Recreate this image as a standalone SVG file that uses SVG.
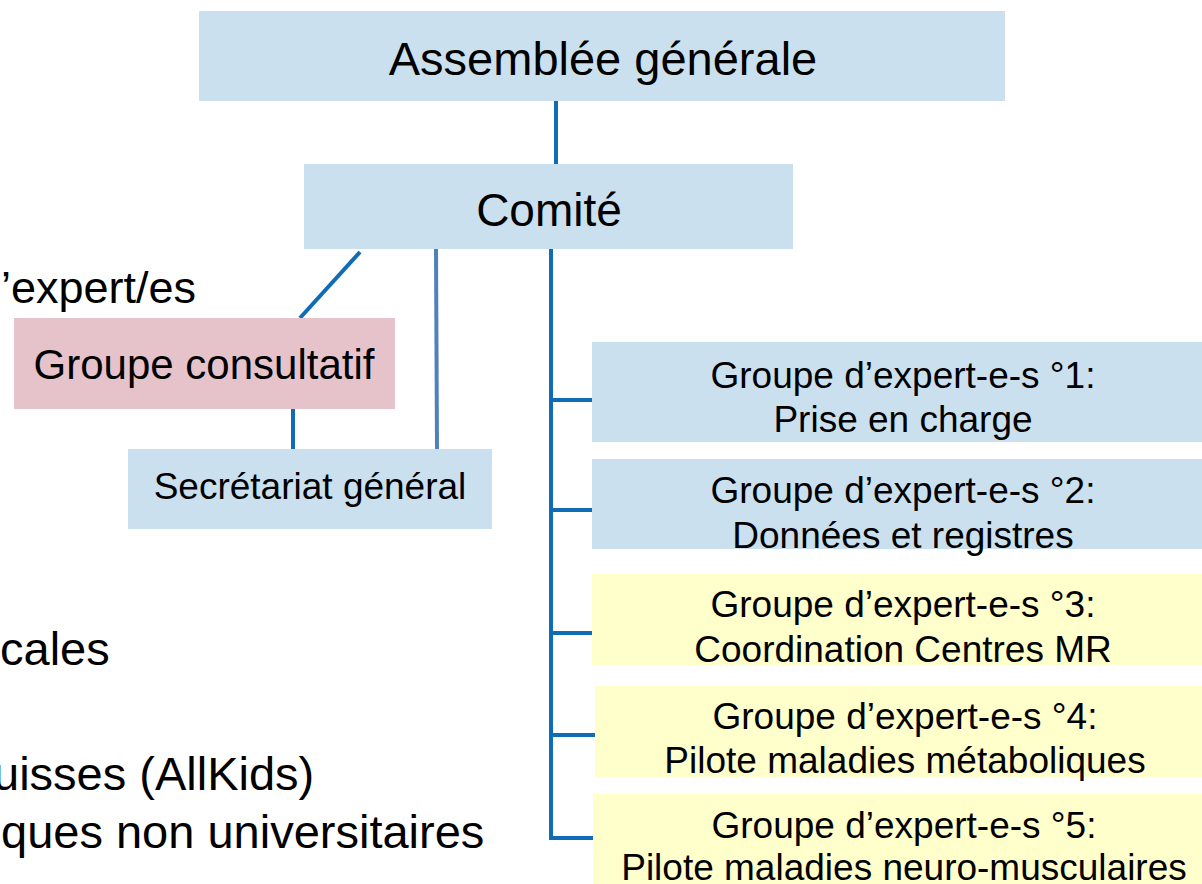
<svg xmlns="http://www.w3.org/2000/svg" width="1202" height="884" viewBox="0 0 1202 884">
<style>
.blue{fill:#CBE0EF}
.pink{fill:#E6C3CA}
.yellow{fill:#FFFFCC}
text{font-family:"Liberation Sans",Arial,sans-serif;fill:#000}
.c{text-anchor:middle}
.g{font-size:37px}
.ln{stroke:#0F6CB5;stroke-width:4;fill:none}
.ln2{stroke:#4F81BD;stroke-width:4;fill:none}
</style>
<rect width="1202" height="884" fill="#fff"/>
<g id="connectors">
<line class="ln" x1="556" y1="101" x2="556" y2="164"/>
<line class="ln" x1="360" y1="252" x2="300" y2="318"/>
<line class="ln2" x1="436" y1="249" x2="437" y2="449"/>
<line class="ln" x1="293" y1="409" x2="293" y2="449"/>
<polyline class="ln" points="551,243 551,838 593,838"/>
<line class="ln" x1="551" y1="400" x2="593" y2="400"/>
<line class="ln" x1="551" y1="510" x2="593" y2="510"/>
<line class="ln" x1="551" y1="633" x2="593" y2="633"/>
<line class="ln" x1="551" y1="735" x2="595" y2="735"/>
</g>
<g id="left-text" font-size="47">
<text x="196" y="303" text-anchor="end" font-size="45">’expert/es</text>
<text x="0" y="665">cales</text>
<text x="-7" y="790">uisses (AllKids)</text>
<text x="1" y="848">ques non universitaires</text>
</g>
<g id="assemblee"><rect class="blue" x="199" y="11" width="806" height="90"/><text class="c" x="603" y="75" font-size="47">Assemblée générale</text></g>
<g id="comite"><rect class="blue" x="304" y="164" width="489" height="85"/><text class="c" x="549" y="226" font-size="46">Comité</text></g>
<g id="consultatif"><rect class="pink" x="14" y="318" width="381" height="91"/><text class="c" x="204" y="379" font-size="42">Groupe consultatif</text></g>
<g id="secretariat"><rect class="blue" x="128" y="449" width="364" height="80"/><text class="c" x="310" y="499" font-size="37">Secrétariat général</text></g>
<g id="g1"><rect class="blue" x="592" y="342" width="610" height="100"/><text class="c g" x="903" y="388">Groupe d’expert-e-s °1:</text><text class="c g" x="903" y="432">Prise en charge</text></g>
<g id="g2"><rect class="blue" x="592" y="459" width="610" height="90"/><text class="c g" x="903" y="503">Groupe d’expert-e-s °2:</text><text class="c g" x="903" y="548">Données et registres</text></g>
<g id="g3"><rect class="yellow" x="592" y="574" width="610" height="91"/><text class="c g" x="903" y="617">Groupe d’expert-e-s °3:</text><text class="c g" x="903" y="662">Coordination Centres MR</text></g>
<g id="g4"><rect class="yellow" x="595" y="686" width="607" height="91"/><text class="c g" x="905" y="729">Groupe d’expert-e-s °4:</text><text class="c g" x="905" y="773">Pilote maladies métaboliques</text></g>
<g id="g5"><rect class="yellow" x="593" y="794" width="609" height="90"/><text class="c g" x="904" y="838">Groupe d’expert-e-s °5:</text><text class="c g" x="904" y="880">Pilote maladies neuro-musculaires</text></g>
</svg>
